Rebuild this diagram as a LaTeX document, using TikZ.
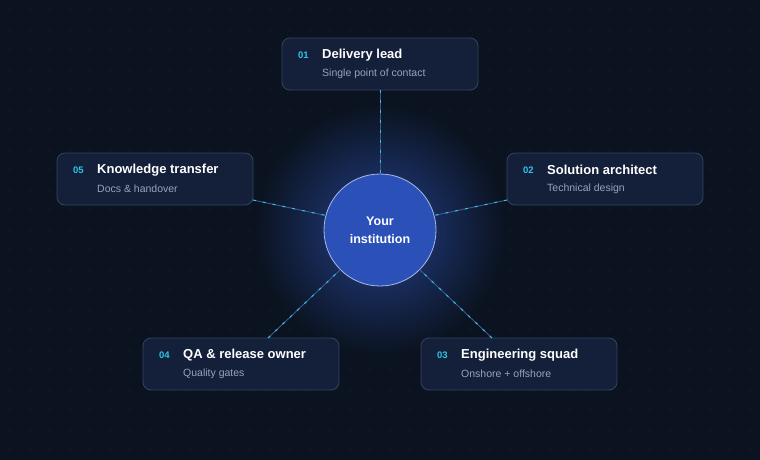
\documentclass[tikz,border=0pt]{standalone}
\usepackage{fontspec}
\setmainfont{Liberation Sans}
\begin{document}
\begin{tikzpicture}[x=1pt,y=-1pt,
  box/.style={draw=boxline,fill=boxfill,rounded corners=8pt,line width=0.8pt},
  num/.style={anchor=west,text=numc,font=\bfseries\fontsize{9.5}{11}\selectfont,inner sep=0},
  ttl/.style={anchor=west,text=white,font=\bfseries\fontsize{13}{15}\selectfont,inner sep=0},
  sub/.style={anchor=west,text=subc,font=\fontsize{10.5}{12}\selectfont,inner sep=0},
  baseline/.style={draw=linec,line width=0.9pt},
  dashline/.style={draw=numc,line width=1pt,dash pattern=on 3pt off 7pt}]
\definecolor{bg}{HTML}{0B1320}
\definecolor{boxfill}{HTML}{14203A}
\definecolor{boxline}{HTML}{34445F}
\definecolor{numc}{HTML}{2EC4E6}
\definecolor{subc}{HTML}{97A3B6}
\definecolor{linec}{HTML}{3B5A8E}
\definecolor{dotc}{HTML}{1A2536}
\definecolor{glow}{HTML}{23408A}
\definecolor{circ}{HTML}{2B50B8}
\fill[bg] (0,0) rectangle (760,460);
\useasboundingbox (0,0) rectangle (760,460);
\foreach \i in {0,...,37}{\foreach \j in {0,...,22}{\fill[dotc] (10+20*\i,10+20*\j) circle (0.8);}}
\shade[inner color=glow,outer color=bg] (380,230) circle (125);
% boxes
\node[box,minimum width=196pt,minimum height=52pt] (b1) at (380,64) {};
\node[box,minimum width=196pt,minimum height=52pt] (b2) at (605,179) {};
\node[box,minimum width=196pt,minimum height=52pt] (b5) at (155,179) {};
\node[box,minimum width=196pt,minimum height=52pt] (b4) at (241,364) {};
\node[box,minimum width=196pt,minimum height=52pt] (b3) at (519,364) {};
\node[circle,draw=white!60!circ,fill=circ,line width=0.8pt,minimum size=112pt,align=center,text=white,font=\bfseries\fontsize{12.5}{18}\selectfont] (c) at (380,230) {Your\\institution};
% connectors
\coordinate (e1) at (380,90); \coordinate (e2) at (507,200); \coordinate (e5) at (253,200);
\coordinate (e4) at (268,338); \coordinate (e3) at (492,338);
\foreach \e/\a in {e1/90,e2/15,e5/165,e4/225,e3/-45}{
  \draw[baseline] (\e) -- (c.\a); \draw[dashline] (\e) -- (c.\a);}
% texts
\foreach \n/\x/\y/\k/\t/\s in {
 n1/282/38/01/Delivery lead/Single point of contact,
 n2/507/153/02/Solution architect/Technical design,
 n3/421/338/03/Engineering squad/Onshore + offshore,
 n4/143/338/04/QA \& release owner/Quality gates,
 n5/57/153/05/Knowledge transfer/Docs \& handover}{
 \node[num] (\n k) at (\x+16,\y+17) {\k};
 \node[ttl] (\n t) at (\x+40,\y+17) {\t};
 \node[sub] (\n s) at (\x+40,\y+36) {\s};}
\end{tikzpicture}
\end{document}
